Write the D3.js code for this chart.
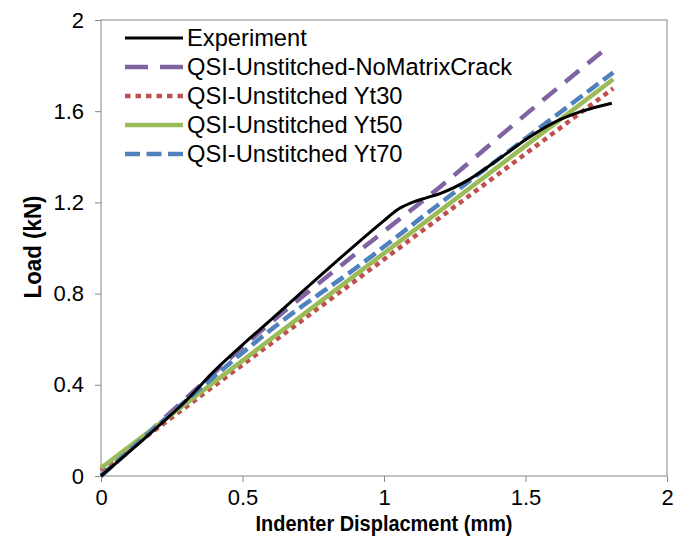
<!DOCTYPE html>
<html>
<head>
  <meta charset="utf-8">
  <title>Load vs indenter displacement</title>
  <script src="https://d3js.org/d3.v7.min.js"></script>
<style>
    body { margin: 0; background: #fff; }
    text { font-family: "Liberation Sans", Arial, sans-serif; }
    .axis path, .axis line { stroke: #868686; }
    .axis text { font-size: 22px; fill: #000; }
</style>
</head>
<body>
<div id="chart"></div>
<script>
// data: displacement (mm), load (kN)
var experiment = [[0,0],[0.2,0.215],[0.3,0.33],[0.4,0.46],[0.5,0.575],[0.6,0.685],[0.74,0.84],
  [0.9,1.015],[1.0,1.12],[1.05,1.17],[1.1,1.2],[1.15,1.22],[1.2,1.24],[1.3,1.3],
  [1.4,1.385],[1.5,1.475],[1.6,1.55],[1.7,1.6],[1.805,1.635]];
var noMatrixCrack = [[0,0],[0.3,0.34],[0.55,0.62],[0.89,0.965],[1.2,1.27],[1.5,1.585],[1.79,1.88]];
var yt30 = [[0,0.025],[1.81,1.70]];
var yt50 = [[0,0.035],[1.81,1.74]];
var yt70 = [[0,0],[0.3,0.33],[0.63,0.67],[0.92,0.93],[1.15,1.15],[1.5,1.48],[1.81,1.77]];

var seriesNames = ["Experiment","QSI-Unstitched-NoMatrixCrack","QSI-Unstitched Yt30",
  "QSI-Unstitched Yt50","QSI-Unstitched Yt70"];
var xTicks = [0, 0.5, 1, 1.5, 2];
var yTicks = [0, 0.4, 0.8, 1.2, 1.6, 2];

var series = [
  {name: seriesNames[0], values: experiment,    color: "#000000", width: 3,   dash: null,      legendDash: null},
  {name: seriesNames[1], values: noMatrixCrack, color: "#8064A2", width: 4.5, dash: "18,11",   legendDash: "23,12"},
  {name: seriesNames[2], values: yt30,          color: "#C0504D", width: 4.5, dash: "5,4.5",   legendDash: "5.5,5"},
  {name: seriesNames[3], values: yt50,          color: "#9BBB59", width: 4.5, dash: null,      legendDash: null},
  {name: seriesNames[4], values: yt70,          color: "#4F81BD", width: 4.5, dash: "14,6",    legendDash: "15,6.5"}
];

var margin = {top: 20, right: 9, bottom: 73, left: 101},
    width = 676 - margin.left - margin.right,
    height = 549 - margin.top - margin.bottom;

var svg = d3.select("#chart").append("svg")
    .attr("width", 676).attr("height", 549)
  .append("g")
    .attr("transform", "translate(" + margin.left + "," + margin.top + ")");

var x = d3.scaleLinear().domain([0, 2]).range([0, width]);
var y = d3.scaleLinear().domain([0, 2]).range([height, 0]);

// frame
svg.append("rect")
  .attr("width", width).attr("height", height)
  .attr("fill", "none").attr("stroke", "#868686");

svg.append("g").attr("class", "axis")
  .attr("transform", "translate(0," + height + ")")
  .call(d3.axisBottom(x).tickValues(xTicks).tickSize(6).tickPadding(7).tickFormat(d3.format("")))
  .call(function(g) { g.select(".domain").remove(); });

svg.append("g").attr("class", "axis")
  .call(d3.axisLeft(y).tickValues(yTicks).tickSize(6).tickPadding(11).tickFormat(d3.format("")))
  .call(function(g) { g.select(".domain").remove(); });

// lines, drawn so experiment ends up on top like the original
var line = d3.line()
  .x(function(d) { return x(d[0]); })
  .y(function(d) { return y(d[1]); })
  .curve(d3.curveMonotoneX);

var order = [1, 2, 3, 4, 0];
order.forEach(function(i) {
  var s = series[i];
  svg.append("path")
    .datum(s.values)
    .attr("fill", "none")
    .attr("stroke", s.color)
    .attr("stroke-width", s.width)
    .attr("stroke-dasharray", s.dash)
    .attr("d", line);
});

// legend
var legend = svg.append("g").attr("transform", "translate(24,18)");
series.forEach(function(s, i) {
  var row = legend.append("g").attr("transform", "translate(0," + (i * 29) + ")");
  row.append("line")
    .attr("x1", 0).attr("x2", 58).attr("y1", 0).attr("y2", 0)
    .attr("stroke", s.color)
    .attr("stroke-width", s.width)
    .attr("stroke-dasharray", s.legendDash);
  row.append("text")
    .attr("x", 62).attr("y", 8)
    .style("font-size", "23.7px")
    .text(s.name);
});

// axis titles (the original uses a condensed bold face)
svg.append("text")
  .attr("x", width / 2).attr("y", height + 55)
  .attr("text-anchor", "middle")
  .attr("textLength", 257).attr("lengthAdjust", "spacingAndGlyphs")
  .style("font-size", "22px").style("font-weight", "bold")
  .text("Indenter Displacment (mm)");

svg.append("text")
  .attr("transform", "translate(-60," + (height / 2 - 1) + ") rotate(-90)")
  .attr("text-anchor", "middle")
  .attr("textLength", 103).attr("lengthAdjust", "spacingAndGlyphs")
  .style("font-size", "24px").style("font-weight", "bold")
  .text("Load (kN)");
</script>
</body>
</html>
